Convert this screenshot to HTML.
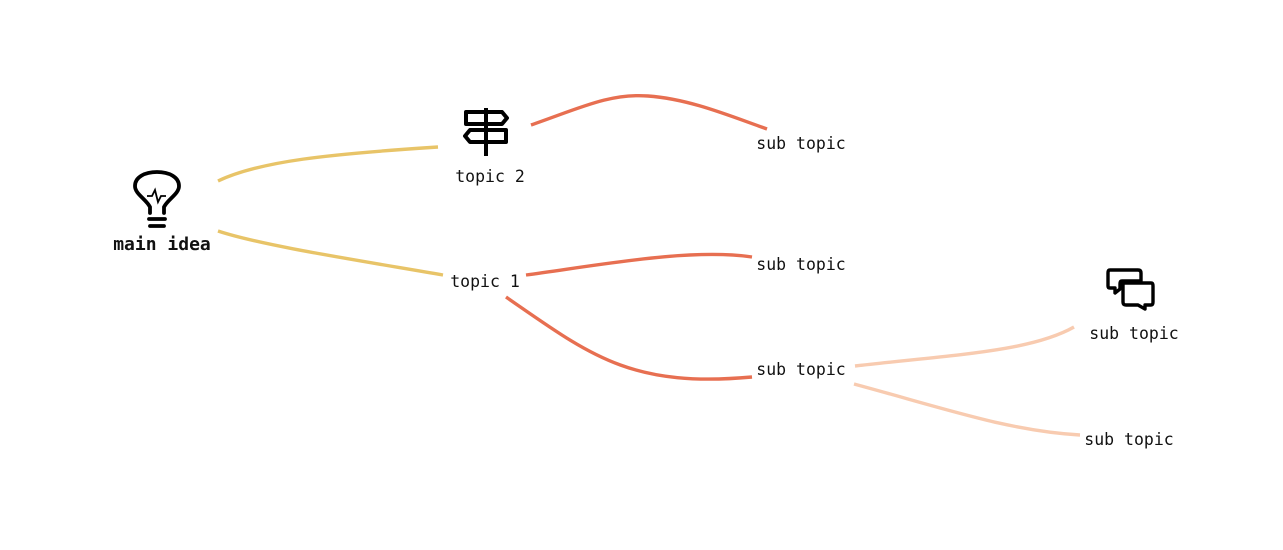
<!DOCTYPE html>
<html><head><meta charset="utf-8"><style>
html,body{margin:0;padding:0;background:#fff;}
svg{display:block}
text{font-family:"DejaVu Sans Mono","Liberation Mono",monospace;font-size:16.5px;fill:#111;}
</style></head><body>
<svg width="1283" height="550" viewBox="0 0 1283 550" xmlns="http://www.w3.org/2000/svg">
<g fill="none" stroke-width="3.4" stroke-linecap="butt">
<path d="M218,181 C260,161 330,154 438,147" stroke="#e8c468"/>
<path d="M218,231 C260,245 350,259 443,275" stroke="#e8c468"/>
<path d="M531,125 C580,108 610,93 648,96 C690,99 730,116 767,129" stroke="#e76f51"/>
<path d="M526,275 C600,265 690,248 752,257" stroke="#e76f51"/>
<path d="M506,297 C590,355 630,388 752,377" stroke="#e76f51"/>
<path d="M855,366 C950,355 1030,352 1074,327" stroke="#f8cbb0"/>
<path d="M854,384 C950,410 1010,431 1080,435" stroke="#f8cbb0"/>
</g>
<!-- bulb -->
<g fill="none" stroke="#000" stroke-width="3.8" stroke-linecap="round" stroke-linejoin="round">
<path d="M150,213 L150,207 C146,199 135,194 135,186 C135,177 145,172 157,172 C169,172 179,177 179,186 C179,194 168,199 164,207 L164,213"/>
<path d="M149,219 L165,219"/><path d="M150,226 L164,226"/>
</g>
<path d="M147,196 L152,196 L155,190 L158,202 L161,196 L166,196" fill="none" stroke="#000" stroke-width="1.8"/>
<!-- signpost -->
<g fill="none" stroke="#000" stroke-width="4" stroke-linejoin="round">
<path d="M486,108 L486,156"/>
<path d="M466,112 L502,112 L507,118 L502,124 L466,124 Z"/>
<path d="M470,130 L506,130 L506,142 L470,142 L465,136 Z"/>
</g>
<!-- chat -->
<g fill="none" stroke="#000" stroke-width="3.4" stroke-linejoin="round">
<path d="M1110,270 L1138,270 Q1141,270 1141,273 L1141,281 L1122,281 Q1120,281 1120,284 L1120,289 L1115,293 L1115,288 L1110,288 Q1108,288 1108,286 L1108,273 Q1108,270 1110,270 Z"/>
<path d="M1123,283 L1151,283 Q1153,283 1153,286 L1153,302 Q1153,305 1151,305 L1145,305 L1145,309 L1138,305 L1126,305 Q1123,305 1123,302 Z"/>
</g>
<text x="162" y="250" text-anchor="middle" style="font-weight:bold;font-size:18px">main idea</text>
<text x="490" y="182" text-anchor="middle">topic 2</text>
<text x="485" y="287" text-anchor="middle">topic 1</text>
<text x="801" y="149" text-anchor="middle">sub topic</text>
<text x="801" y="270" text-anchor="middle">sub topic</text>
<text x="801" y="375" text-anchor="middle">sub topic</text>
<text x="1134" y="339" text-anchor="middle">sub topic</text>
<text x="1129" y="445" text-anchor="middle">sub topic</text>
</svg>
</body></html>
